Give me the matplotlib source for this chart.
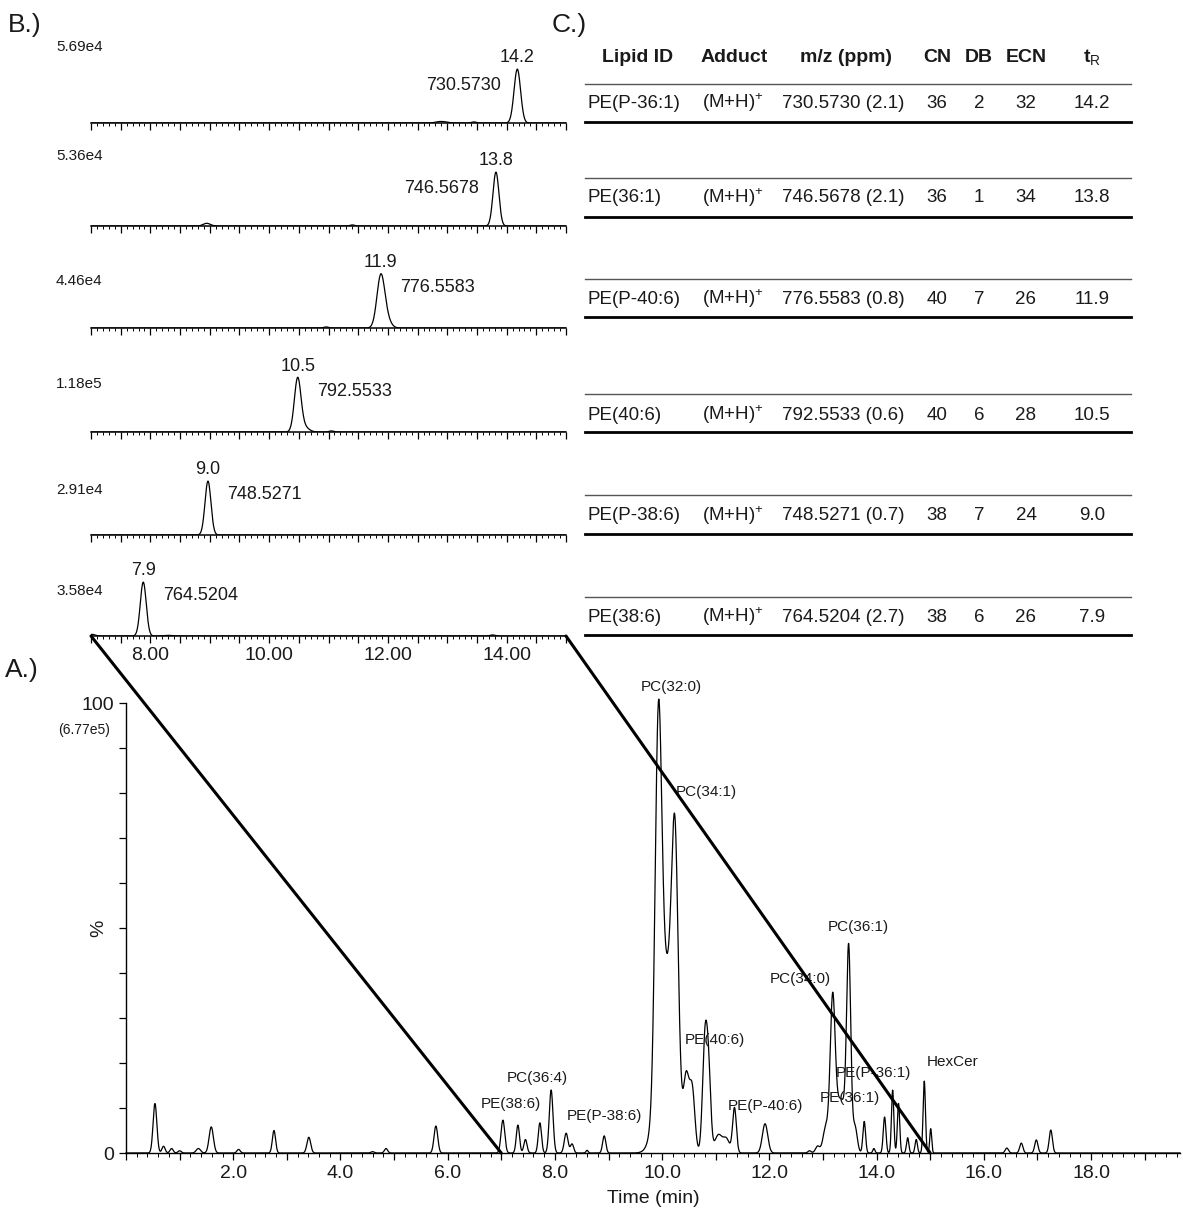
import numpy as np
import matplotlib
matplotlib.use("Agg")
import matplotlib.pyplot as plt
from matplotlib.patches import ConnectionPatch
from matplotlib.ticker import MultipleLocator, FuncFormatter

plt.rcParams['font.family'] = ['Liberation Sans', 'DejaVu Sans']
plt.rcParams['mathtext.fontset'] = 'custom'
plt.rcParams['mathtext.rm'] = 'Liberation Sans'
plt.rcParams['mathtext.bf'] = 'Liberation Sans:bold'
plt.rcParams['mathtext.it'] = 'Liberation Sans:italic'

TXT = '#1a1a1a'

# ---------------- data ----------------
lipid_ids = ["PE(P-36:1)", "PE(36:1)", "PE(P-40:6)", "PE(40:6)", "PE(P-38:6)", "PE(38:6)"]
adducts = ["(M+H)$^{+}$"] * 6
mz_values = ["730.5730", "746.5678", "776.5583", "792.5533", "748.5271", "764.5204"]
ppm_values = ["2.1", "2.1", "0.8", "0.6", "0.7", "2.7"]
cn_values = [36, 36, 40, 40, 38, 38]
db_values = [2, 1, 7, 6, 7, 6]
ecn_values = [32, 34, 26, 28, 24, 26]
tr_values = ["14.2", "13.8", "11.9", "10.5", "9.0", "7.9"]
intensities = ["5.69e4", "5.36e4", "4.46e4", "1.18e5", "2.91e4", "3.58e4"]

# extracted ion chromatogram peaks (panel B): centre (min), relative height, width (min)
eic_centres = [
    [14.18, 12.85, 12.95, 13.45],
    [13.82, 8.95, 11.40],
    [11.88, 11.98, 10.96],
    [10.48, 10.58, 11.05],
    [8.97],
    [7.88, 7.02, 8.30, 13.76],
]
eic_heights = [
    [100, 2, 2, 2],
    [100, 5, 2],
    [95, 15, 2],
    [97, 10, 2],
    [100],
    [100, 3, 1.2, 2],
]
eic_widths = [
    [0.055, 0.06, 0.06, 0.04],
    [0.05, 0.06, 0.04],
    [0.065, 0.07, 0.04],
    [0.055, 0.08, 0.04],
    [0.05],
    [0.05, 0.05, 0.08, 0.04],
]

# total ion chromatogram peaks (panel A)
tic_centres = [0.54, 0.70, 0.85, 1.00, 1.35, 1.59, 2.10, 2.76, 3.41, 4.60, 4.85, 5.78,
               7.03, 7.31, 7.45, 7.72, 7.93, 8.21, 8.32, 8.60, 8.92,
               10.08, 9.93, 10.24, 10.45, 10.56, 10.80, 10.87, 11.05, 11.20, 11.35, 11.92,
               12.75, 12.90, 13.05, 13.33, 13.18, 13.48, 13.60, 13.77, 13.95,
               14.15, 14.30, 14.41, 14.58, 14.74, 14.89, 15.01,
               16.43, 16.70, 16.98, 17.25]
tic_heights = [11.0, 1.5, 1.0, 0.5, 1.0, 5.8, 0.8, 5.0, 3.5, 0.3, 1.0, 6.0,
               7.3, 6.2, 3.0, 6.7, 14.0, 4.4, 2.0, 0.6, 3.8,
               40.0, 76.0, 52.0, 15.0, 14.0, 25.0, 15.0, 4.0, 3.0, 10.0, 6.5,
               0.5, 1.5, 5.0, 12.0, 30.0, 41.0, 5.0, 7.0, 1.0,
               8.0, 14.0, 11.0, 3.4, 3.0, 16.0, 5.4,
               1.1, 2.2, 2.9, 5.1]
tic_widths = [0.035, 0.03, 0.03, 0.03, 0.04, 0.04, 0.03, 0.03, 0.035, 0.03, 0.03, 0.035,
              0.035, 0.03, 0.03, 0.03, 0.035, 0.035, 0.03, 0.02, 0.03,
              0.15, 0.06, 0.06, 0.05, 0.05, 0.045, 0.04, 0.07, 0.06, 0.035, 0.05,
              0.03, 0.04, 0.05, 0.12, 0.045, 0.038, 0.04, 0.025, 0.02,
              0.025, 0.022, 0.022, 0.022, 0.022, 0.022, 0.018,
              0.03, 0.03, 0.03, 0.03]

peak_labels = ["PC(32:0)", "PC(34:1)", "PC(36:1)", "PC(34:0)", "PE(40:6)", "HexCer",
               "PE(P-36:1)", "PE(36:1)", "PC(36:4)", "PE(38:6)", "PE(P-38:6)", "PE(P-40:6)"]
label_times = [10.17, 10.82, 13.66, 12.57, 10.99, 15.41, 13.94, 13.51, 7.67, 7.18, 8.92, 11.92]
label_levels = [103.6, 80.2, 50.2, 38.7, 25.1, 20.2, 17.8, 12.2, 16.7, 10.9, 8.2, 10.4]

zoom_start, zoom_end = 7.0, 15.0


def trace(t, centres, heights, widths):
    y = np.zeros_like(t)
    for c, h, w in zip(centres, heights, widths):
        y += h * np.exp(-0.5 * ((t - c) / w) ** 2)
    return y


# ---------------- layout ----------------
W, H = 1183, 1211
fig = plt.figure(figsize=(W / 100, H / 100), dpi=100)

ov = fig.add_axes([0, 0, 1, 1])
ov.set_xlim(0, W)
ov.set_ylim(H, 0)
ov.axis('off')

# panel B
b_left, b_right = 91, 566
b_base = [123, 226, 328, 432, 535, 636]
b_h = 90
int_label_y = [47, 156, 281, 384, 490, 591]
mz_side = ['left', 'left', 'right', 'right', 'right', 'right']

t_b = np.linspace(zoom_start, zoom_end, 2000)
b_axes = []
for i in range(6):
    ax = fig.add_axes([b_left / W, (H - b_base[i]) / H, (b_right - b_left) / W, b_h / H])
    ax.patch.set_alpha(0)
    y = trace(t_b, eic_centres[i], eic_heights[i], eic_widths[i])
    ax.plot(t_b, y, color='black', lw=0.9)
    ax.set_xlim(zoom_start, zoom_end)
    ax.set_ylim(0, 167)
    for s in ['top', 'right', 'left']:
        ax.spines[s].set_visible(False)
    ax.spines['bottom'].set_linewidth(1.1)
    ax.set_yticks([])
    ax.xaxis.set_major_locator(MultipleLocator(0.5))
    ax.xaxis.set_minor_locator(MultipleLocator(0.1))
    ax.tick_params(axis='x', which='major', length=5, width=0.9, direction='out')
    ax.tick_params(axis='x', which='minor', length=2.5, width=0.7, direction='out')
    if i == 5:
        ax.xaxis.set_major_formatter(FuncFormatter(
            lambda v, p: f"{v:.2f}" if abs(v - round(v)) < 1e-6 and round(v) % 2 == 0 else ""))
        ax.tick_params(axis='x', labelsize=14, pad=3, labelcolor=TXT)
    else:
        ax.set_xticklabels([])
    pk = eic_centres[i][0]
    ax.annotate(tr_values[i], xy=(pk, 100), xytext=(0, 8), textcoords='offset points',
                ha='center', va='center', fontsize=13, color=TXT)
    if mz_side[i] == 'left':
        ax.annotate(mz_values[i], xy=(pk, 100), xytext=(-12, -12), textcoords='offset points',
                    ha='right', va='center', fontsize=13, color=TXT)
    else:
        ax.annotate(mz_values[i], xy=(pk, 100), xytext=(14, -10), textcoords='offset points',
                    ha='left', va='center', fontsize=13, color=TXT)
    ov.text(56, int_label_y[i], intensities[i], ha='left', va='center', fontsize=11, color=TXT)
    b_axes.append(ax)

# panel A
a_left, a_right, a_base, a_top = 126, 1180, 1153, 703
axA = fig.add_axes([a_left / W, (H - a_base) / H, (a_right - a_left) / W, (a_base - a_top) / H])
axA.patch.set_alpha(0)
t_a = np.linspace(0, 19.66, 6000)
axA.plot(t_a, trace(t_a, tic_centres, tic_heights, tic_widths), color='black', lw=0.9, clip_on=False)
axA.set_xlim(0, 19.66)
axA.set_ylim(0, 100)
for s in ['top', 'right']:
    axA.spines[s].set_visible(False)
for s in ['left', 'bottom']:
    axA.spines[s].set_linewidth(1.0)
axA.xaxis.set_major_locator(MultipleLocator(1.0))
axA.xaxis.set_minor_locator(MultipleLocator(0.2))
axA.xaxis.set_major_formatter(FuncFormatter(
    lambda v, p: f"{v:.1f}" if round(v) % 2 == 0 and v > 0.5 else ""))
axA.yaxis.set_major_locator(MultipleLocator(10))
axA.yaxis.set_major_formatter(FuncFormatter(lambda v, p: f"{v:.0f}" if v in (0, 100) else ""))
axA.tick_params(axis='both', which='major', length=5, width=0.9, labelsize=14, labelcolor=TXT)
axA.tick_params(axis='x', which='minor', length=3, width=0.7)
axA.set_xlabel("Time (min)", fontsize=14, color=TXT, labelpad=6)
axA.set_ylabel("%", fontsize=14, color=TXT)
axA.yaxis.set_label_coords(-0.018, 0.5)
axA.text(-0.3, 94, "(6.77e5)", transform=axA.transData, ha='right', va='center', fontsize=10, color=TXT)
for lab, tx, ty in zip(peak_labels, label_times, label_levels):
    axA.text(tx, ty, lab, ha='center', va='center', fontsize=11, color=TXT, clip_on=False)

# zoom connection lines
for tz in (zoom_start, zoom_end):
    cp = ConnectionPatch(xyA=(tz, 0), coordsA=b_axes[5].transData,
                         xyB=(tz, 0), coordsB=axA.transData,
                         color='black', lw=2.2)
    fig.add_artist(cp)

# panel letters
ov.text(8, 25, "B.)", fontsize=19, color=TXT, ha='left', va='center')
ov.text(552, 25, "C.)", fontsize=19, color=TXT, ha='left', va='center')
ov.text(5, 670, "A.)", fontsize=19, color=TXT, ha='left', va='center')

# panel C table
col_x = [588, 733, 843, 937, 979, 1026, 1092]
head_x = [638, 734, 846, 937, 979, 1026, 1092]
headers = ["Lipid ID", "Adduct", "m/z (ppm)", "CN", "DB", "ECN", r"$\mathbf{t}_{\mathrm{R}}$"]
head_y = 57
tbl_l, tbl_r = 585, 1131
thin_y = [84, 178, 279, 394, 495, 597]
row_y = [103, 198, 299, 415, 516, 617]
thick_y = [122, 217, 317, 432, 534, 635]
for hx, htxt in zip(head_x, headers):
    ov.text(hx, head_y, htxt, ha='center', va='center', fontsize=14, fontweight='bold', color=TXT)
for i in range(6):
    ov.plot([tbl_l, tbl_r], [thin_y[i], thin_y[i]], color='#555555', lw=1.0)
    ov.plot([tbl_l, tbl_r], [thick_y[i], thick_y[i]], color='black', lw=2.0)
    cells = [lipid_ids[i], adducts[i], f"{mz_values[i]} ({ppm_values[i]})", str(cn_values[i]),
             str(db_values[i]), str(ecn_values[i]), tr_values[i]]
    for j, (cx, ctext) in enumerate(zip(col_x, cells)):
        ov.text(cx, row_y[i], ctext, ha='left' if j == 0 else 'center', va='center',
                fontsize=13.5, color=TXT)

fig.savefig("out.png", dpi=100)
